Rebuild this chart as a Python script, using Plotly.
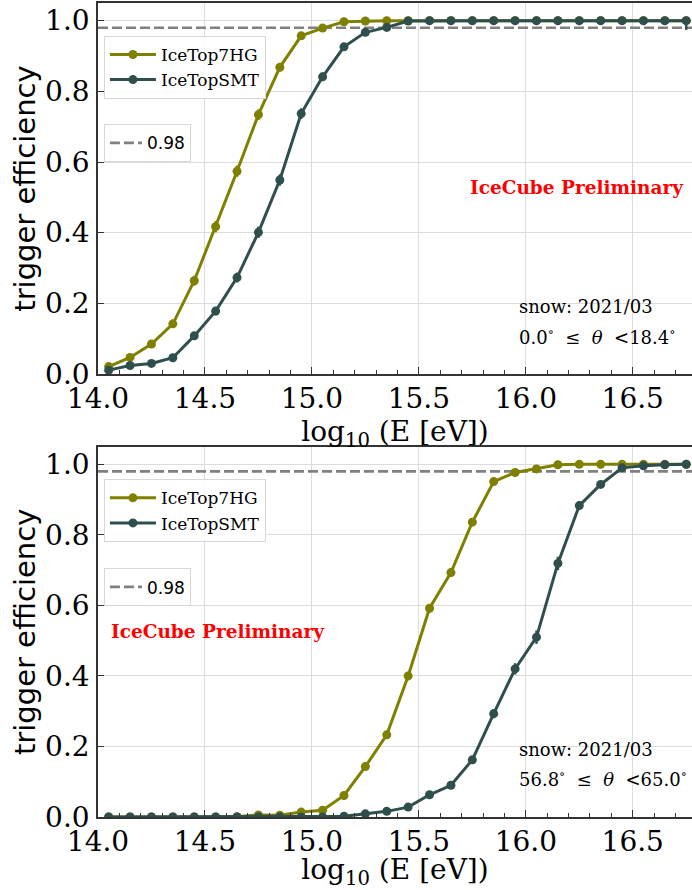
import plotly.graph_objects as go

# ---------------- data ----------------
log_energy = [14.05, 14.15, 14.25, 14.35, 14.45, 14.55, 14.65, 14.75, 14.85, 14.95,
              15.05, 15.15, 15.25, 15.35, 15.45, 15.55, 15.65, 15.75, 15.85, 15.95,
              16.05, 16.15, 16.25, 16.35, 16.45, 16.55, 16.65, 16.75]

# top panel: 0.0 <= theta < 18.4
top_7hg = [0.021, 0.047, 0.085, 0.142, 0.264, 0.417, 0.574, 0.734, 0.868, 0.957,
           0.979, 0.997, 0.999, 1.0, 1.0, 1.0, 1.0, 1.0, 1.0, 1.0,
           1.0, 1.0, 1.0, 1.0, 1.0, 1.0, 1.0, 1.0]
top_7hg_err = [0.005, 0.007, 0.009, 0.011, 0.014, 0.016, 0.016, 0.015, 0.012, 0.007,
               0.005, 0.002, 0.001, 0.0, 0.0, 0.0, 0.0, 0.0, 0.0, 0.0,
               0.0, 0.0, 0.0, 0.0, 0.0, 0.0, 0.0, 0.0]
top_smt = [0.011, 0.024, 0.030, 0.046, 0.108, 0.178, 0.273, 0.401, 0.549, 0.737,
           0.841, 0.926, 0.967, 0.981, 0.999, 1.0, 1.0, 1.0, 1.0, 1.0,
           1.0, 1.0, 1.0, 1.0, 1.0, 1.0, 1.0, 1.0]
top_smt_err_plus = [0.004, 0.005, 0.006, 0.007, 0.010, 0.012, 0.014, 0.016, 0.016, 0.015,
                    0.012, 0.009, 0.006, 0.004, 0.001, 0.0, 0.0, 0.0, 0.0, 0.0,
                    0.0, 0.0, 0.0, 0.0, 0.0, 0.0, 0.0, 0.0]
top_smt_err_minus = [0.004, 0.005, 0.006, 0.007, 0.010, 0.012, 0.014, 0.016, 0.016, 0.015,
                     0.012, 0.009, 0.006, 0.004, 0.001, 0.0, 0.0, 0.0, 0.0, 0.0,
                     0.0, 0.0, 0.0, 0.0, 0.0, 0.0, 0.0, 0.026]

# bottom panel: 56.8 <= theta < 65.0
bot_7hg = [0.0, 0.0, 0.0, 0.0, 0.0, 0.0, 0.001, 0.006, 0.005, 0.014,
           0.019, 0.061, 0.143, 0.233, 0.400, 0.592, 0.693, 0.836, 0.951, 0.977,
           0.987, 0.999, 1.0, 1.0, 1.0, 1.0, 1.0, 1.0]
bot_7hg_err = [0.0, 0.0, 0.0, 0.0, 0.0, 0.0, 0.001, 0.002, 0.002, 0.003,
               0.004, 0.006, 0.009, 0.011, 0.012, 0.012, 0.011, 0.009, 0.006, 0.004,
               0.003, 0.001, 0.0, 0.0, 0.0, 0.0, 0.0, 0.0]
bot_smt = [0.0, 0.0, 0.0, 0.0, 0.0, 0.0, 0.0, 0.0, 0.0, 0.0,
           0.0, 0.002, 0.009, 0.016, 0.028, 0.063, 0.090, 0.162, 0.293, 0.420,
           0.510, 0.719, 0.883, 0.943, 0.990, 0.996, 0.999, 1.0]
bot_smt_err = [0.0, 0.0, 0.0, 0.0, 0.0, 0.0, 0.0, 0.0, 0.0, 0.0,
               0.0, 0.001, 0.002, 0.003, 0.004, 0.006, 0.007, 0.010, 0.013, 0.016,
               0.019, 0.019, 0.012, 0.008, 0.004, 0.002, 0.001, 0.0]

threshold = 0.98
threshold_x = [14.0, 16.8]
series_names = ["IceTop7HG", "IceTopSMT"]
snow_label = "snow: 2021/03"
theta_labels = ["0.0<sup>∘</sup>  ≤  <i>θ</i>  &lt;18.4<sup>∘</sup>",
                "56.8<sup>∘</sup>  ≤  <i>θ</i>  &lt;65.0<sup>∘</sup>"]
x_ticks = [14.0, 14.5, 15.0, 15.5, 16.0, 16.5]
y_ticks = [0.0, 0.2, 0.4, 0.6, 0.8, 1.0]

# ---------------- style ----------------
OLIVE = "#808000"
SLATE = "#2f4f4f"
SERIF = "DejaVu Serif"
SANS = "DejaVu Sans"

fig = go.Figure()

panels = [
    dict(xa="x", ya="y", hg=top_7hg, hg_e=(top_7hg_err, top_7hg_err),
         smt=top_smt, smt_e=(top_smt_err_plus, top_smt_err_minus),
         leg1="legend", leg2="legend2"),
    dict(xa="x2", ya="y2", hg=bot_7hg, hg_e=(bot_7hg_err, bot_7hg_err),
         smt=bot_smt, smt_e=(bot_smt_err, bot_smt_err),
         leg1="legend3", leg2="legend4"),
]

for p in panels:
    fig.add_trace(go.Scatter(
        x=threshold_x, y=[threshold, threshold], mode="lines", name=f"{threshold:.2f}",
        line=dict(color="#808080", width=2.6, dash="10px,4px"),
        xaxis=p["xa"], yaxis=p["ya"], legend=p["leg2"], hoverinfo="skip"))
    for name, vals, err, col in [(series_names[0], p["hg"], p["hg_e"], OLIVE),
                                 (series_names[1], p["smt"], p["smt_e"], SLATE)]:
        fig.add_trace(go.Scatter(
            x=log_energy, y=vals, mode="lines+markers", name=name,
            line=dict(color=col, width=3),
            marker=dict(color=col, size=9),
            error_y=dict(type="data", array=err[0], arrayminus=err[1],
                         color=col, thickness=2.5, width=0, symmetric=False),
            xaxis=p["xa"], yaxis=p["ya"], legend=p["leg1"]))

axis_common = dict(
    showgrid=True, gridcolor="#dcdcdc", gridwidth=1,
    showline=True, linecolor="#333333", linewidth=1.5,
    ticks="inside", tickcolor="#333333", tickwidth=1.3,
    tickfont=dict(family=SERIF, size=28, color="black"),
    zeroline=False,
)

top_dom = [0.5442, 1.0]
bot_dom = [0.0, 0.4549]

for i, (xa, ya, dom) in enumerate([("xaxis", "yaxis", top_dom), ("xaxis2", "yaxis2", bot_dom)]):
    anchor_y = "y" if i == 0 else "y2"
    anchor_x = "x" if i == 0 else "x2"
    fig.layout[xa] = dict(
        axis_common, domain=[0, 1], anchor=anchor_y, range=[14.0, 16.777],
        tickvals=x_ticks, ticktext=[f"{v:.1f}" for v in x_ticks], ticklen=7,
        mirror=True,
        minor=dict(dtick=0.1, tick0=14.0, ticks="inside", ticklen=4,
                   tickcolor="#333333", tickwidth=1, showgrid=False),
        title=dict(text="log<sub>10</sub> (E [eV])",
                   font=dict(family=SERIF, size=28, color="black"), standoff=0),
        ticklabelstandoff=-1,
    )
    fig.layout[ya] = dict(
        axis_common, domain=dom, anchor=anchor_x, range=[0.0, 1.05],
        tickvals=y_ticks, ticktext=[f"{v:.1f}" for v in y_ticks], ticklen=6,
        title=dict(text="trigger efficiency",
                   font=dict(family=SANS, size=29, color="black"), standoff=1),
        ticklabelstandoff=1,
    )

legend_style = dict(bgcolor="rgba(255,255,255,0.85)", bordercolor="#d8d8d8",
                    borderwidth=1, xanchor="left", yanchor="top",
                    xref="paper", yref="paper")
fig.update_layout(
    legend=dict(legend_style, x=0.01, y=0.9595, itemwidth=46,
                font=dict(family=SERIF, size=17, color="black")),
    legend2=dict(legend_style, x=0.01, y=0.851, itemwidth=32,
                 font=dict(family=SANS, size=17, color="black")),
    legend3=dict(legend_style, x=0.01, y=0.4149, itemwidth=46,
                 font=dict(family=SERIF, size=17, color="black")),
    legend4=dict(legend_style, x=0.01, y=0.3055, itemwidth=32,
                 font=dict(family=SANS, size=17, color="black")),
)

ann_font = dict(family=SERIF, size=18, color="black")
red_font = dict(family=SERIF, size=18.5, color="red", weight="bold")
annotations = [
    dict(text="<b>IceCube Preliminary</b>", x=16.24, y=0.529, xref="x", yref="y",
         showarrow=False, font=red_font, xanchor="center", yanchor="middle"),
    dict(text=snow_label, x=15.959, y=0.19, xref="x", yref="y",
         showarrow=False, font=ann_font, xanchor="left", yanchor="middle"),
    dict(text=theta_labels[0], x=15.959, y=0.108, xref="x", yref="y",
         showarrow=False, font=ann_font, xanchor="left", yanchor="middle"),
    dict(text="<b>IceCube Preliminary</b>", x=14.562, y=0.526, xref="x2", yref="y2",
         showarrow=False, font=red_font, xanchor="center", yanchor="middle"),
    dict(text=snow_label, x=15.959, y=0.19, xref="x2", yref="y2",
         showarrow=False, font=ann_font, xanchor="left", yanchor="middle"),
    dict(text=theta_labels[1], x=15.959, y=0.111, xref="x2", yref="y2",
         showarrow=False, font=ann_font, xanchor="left", yanchor="middle"),
]

fig.update_layout(
    width=692, height=890,
    margin=dict(l=98, r=0, t=3, b=73),
    paper_bgcolor="white", plot_bgcolor="white",
    annotations=annotations,
    showlegend=True,
)

fig.write_html("out.html", config={"displayModeBar": False},
               post_script="document.body.style.margin='0';document.body.style.overflow='hidden';")
